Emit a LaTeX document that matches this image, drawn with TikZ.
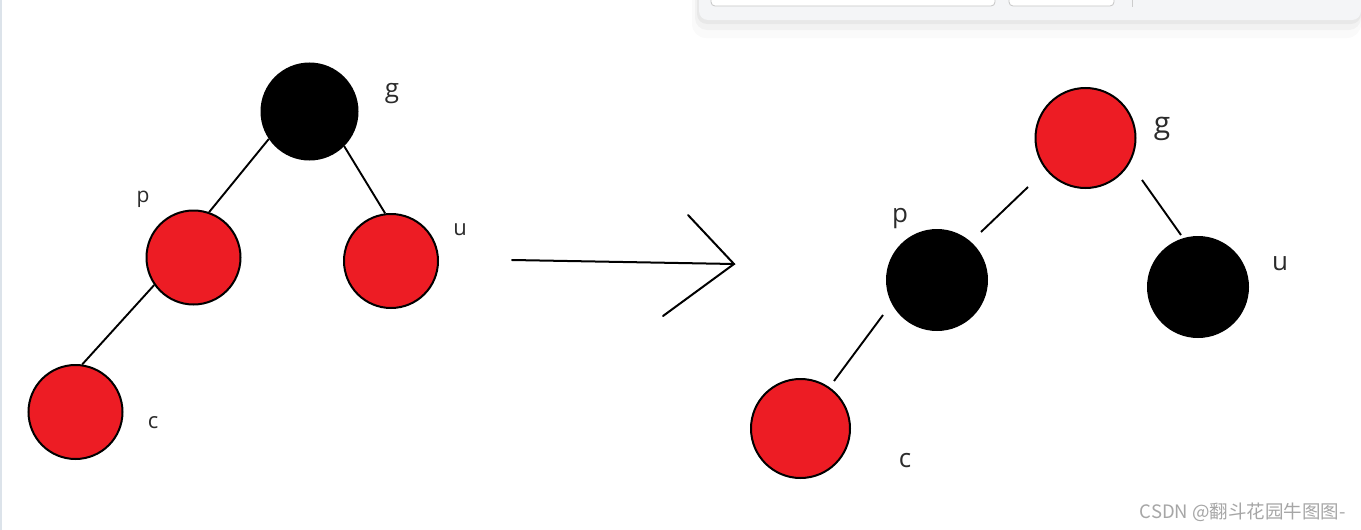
\documentclass[tikz,border=0pt]{standalone}
\usepackage{fontspec}
\setmainfont{Open Sans}
\newfontfamily\cjkfont{Noto Sans CJK SC}
\definecolor{nodered}{HTML}{ED1C24}
\definecolor{labelgray}{HTML}{2B2B2B}
\definecolor{panelgray}{HTML}{F4F5F7}
\definecolor{edgeblue}{HTML}{DCE3EA}
\begin{document}
\begin{tikzpicture}[x=1pt,y=-1pt,
  rb/.style={circle,draw=black,line width=2pt,inner sep=0pt,minimum size=#1},
  rnode/.style={rb=#1,fill=nodered},
  bnode/.style={rb=#1,fill=black},
  lbl/.style={anchor=base,text=labelgray,inner sep=0pt,font=\fontsize{#1}{#1}\selectfont},
  edge/.style={line width=1.9pt,black},
  arr/.style={line width=2pt,black,line cap=round}]
\useasboundingbox (0,0) rectangle (1361,530);
\fill[white] (0,0) rectangle (1361,530);
% left border
\fill[edgeblue] (0,0) rectangle (2,530);
% UI panel (shadow + panel)
\fill[black,opacity=0.02] (692,0) -- (692,24) [rounded corners=14pt] -- (692,38) -- (1361,38) [sharp corners] -- (1361,0) -- cycle;
\fill[black,opacity=0.03] (695,0) [rounded corners=12pt] -- (695,30) -- (1361,30) [sharp corners] -- (1361,0) -- cycle;
\fill[black,opacity=0.04] (697,0) [rounded corners=10pt] -- (697,24) -- (1361,24) [sharp corners] -- (1361,0) -- cycle;
\fill[panelgray] (699,0) [rounded corners=9pt] -- (699,20) -- (1361,20) [sharp corners] -- (1361,0) -- cycle;
\draw[gray!45,line width=0.8pt,fill=white,rounded corners=4pt] (711,-5) rectangle (995,6);
\draw[gray!45,line width=0.8pt,fill=white,rounded corners=4pt] (1009,-5) rectangle (1114,6);
\draw[gray!40,line width=0.6pt] (1132,0) -- (1132,7);

% ---------- left tree ----------
\node[bnode=96pt] (Lg) at (309.5,111.5) {};
\node[rnode=94pt] (Lp) at (193.5,257.5) {};
\node[rnode=94pt] (Lu) at (391,261) {};
\node[rnode=94pt] (Lc) at (75.5,412) {};
\draw[edge] (Lg.214) -- (Lp.71);
\draw[edge] (Lg.315) -- (Lu.97);
\draw[edge] (Lp.215) -- (Lc.82);
\node[lbl=26pt] (tLg) at (392,97) {g};
\node[lbl=21pt] (tLp) at (143,202) {p};
\node[lbl=22pt] (tLu) at (460,235) {u};
\node[lbl=22pt] (tLc) at (153,428) {c};

% ---------- arrow ----------
\coordinate (a0) at (512,260);
\coordinate (a1) at (734,264);
\coordinate (h1) at (688,215);
\coordinate (h2) at (663,316);
\draw[arr] (a0) -- (a1);
\draw[arr] (h1) -- (a1) -- (h2);

% ---------- right tree ----------
\node[rnode=100pt] (Rg) at (1085.5,138) {};
\node[bnode=100pt] (Rp) at (937,280) {};
\node[bnode=100pt] (Ru) at (1198,287) {};
\node[rnode=99pt] (Rc) at (800.5,428.5) {};
\coordinate (e1a) at (1028,187);
\coordinate (e1b) at (981,232);
\coordinate (e2a) at (1142,180);
\coordinate (e2b) at (1181,235);
\coordinate (e3a) at (883,315);
\coordinate (e3b) at (834,381);
\draw[edge] (e1a) -- (e1b);
\draw[edge] (e2a) -- (e2b);
\draw[edge] (e3a) -- (e3b);
\node[lbl=30pt] (tRg) at (1162,133) {g};
\node[lbl=26pt] (tRp) at (900,222) {p};
\node[lbl=26pt] (tRu) at (1280,270) {u};
\node[lbl=26pt] (tRc) at (905,467) {c};

% watermark
\node[anchor=base east,inner sep=0pt,text=gray!70,font=\cjkfont\fontsize{18.5pt}{18.5pt}\selectfont] (wm) at (1346,518) {CSDN @翻斗花园牛图图-};
\end{tikzpicture}
\end{document}
